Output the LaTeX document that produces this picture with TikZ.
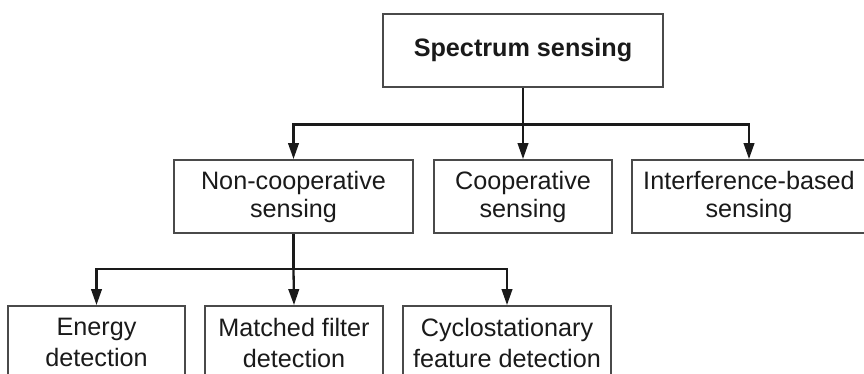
\documentclass[tikz,border=0pt]{standalone}
\usepackage{fontspec}
\setmainfont{Liberation Sans}
\usetikzlibrary{arrows.meta}

\definecolor{boxline}{HTML}{4A4A4A}
\definecolor{ink}{HTML}{1A1A1A}

\tikzset{
  box/.style={draw=boxline, line width=1.8pt, fill=white, text=ink,
    align=center, inner sep=0pt, minimum height=73pt,
    font=\fontsize{25.2}{28}\selectfont},
  lowbox/.style={box, font=\fontsize{25.2}{31}\selectfont},
  link/.style={draw=ink, line width=2.3pt},
  arrowlink/.style={link, -{Triangle[length=16pt,width=10.5pt]}}
}

\begin{document}
\begin{tikzpicture}[x=1pt, y=-1pt]
  \useasboundingbox (0,0) rectangle (864,374);
  \clip (0,0) rectangle (864,374);
  \fill[white] (0,0) rectangle (864,374);

  % root
  \node[box, minimum width=280pt, font=\fontsize{25.2}{28}\bfseries\selectfont]
    (root) at (523,50.5) {Spectrum sensing};

  % second level
  \node[box, minimum width=239pt] (noncoop) at (293.5,196.5) {Non-cooperative\\sensing};
  \node[box, minimum width=178pt] (coop) at (523,196.5) {Cooperative\\sensing};
  \node[box, minimum width=234pt] (iface) at (749,196.5) {Interference-based\\sensing};

  % third level
  \node[lowbox, minimum width=177pt] (energy) at (96.5,342.5) {Energy\\detection};
  \node[lowbox, minimum width=178pt] (matched) at (294,342.5) {Matched filter\\detection};
  \node[lowbox, minimum width=208pt] (cyclo) at (507,342.5) {Cyclostationary\\feature detection};

  % branch points
  \coordinate (j1) at (523,124.5);
  \coordinate (j2) at (293.5,269);

  % root to second level
  \draw[link] (root.south) -- (j1);
  \draw[arrowlink] (j1) -| (noncoop.north);
  \draw[arrowlink] (j1) -- (coop.north);
  \draw[arrowlink] (j1) -| (iface.north);

  % non-cooperative to detectors
  \draw[link] (noncoop.south) -- (j2);
  \draw[arrowlink] (j2) -| (energy.north);
  \draw[arrowlink] (j2) -- (matched.north);
  \draw[arrowlink] (j2) -| (cyclo.north);
\end{tikzpicture}
\end{document}
